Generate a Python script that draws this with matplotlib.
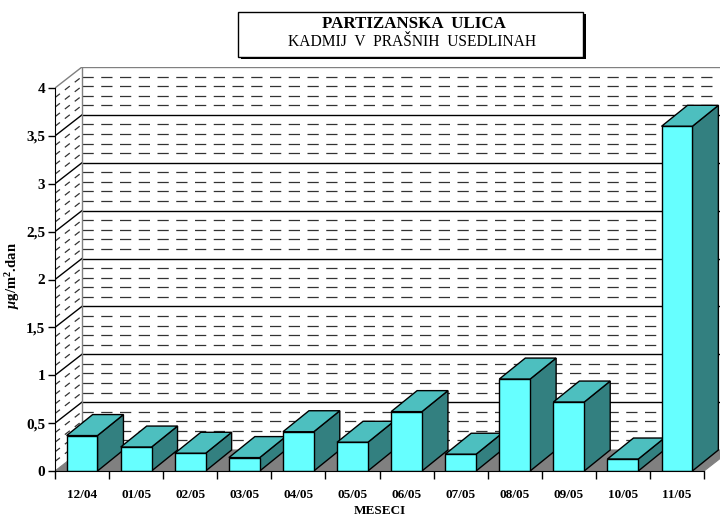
import numpy as np
import matplotlib
matplotlib.use("Agg")
import matplotlib.pyplot as plt
from matplotlib.patches import Polygon, Rectangle

plt.rcParams['font.family'] = ['Liberation Serif', 'DejaVu Serif']
plt.rcParams['mathtext.fontset'] = 'custom'
plt.rcParams['mathtext.rm'] = 'Liberation Serif:bold'
plt.rcParams['mathtext.bf'] = 'Liberation Serif:bold'
plt.rcParams['mathtext.it'] = 'Liberation Serif:italic:bold'

# monthly cadmium in dust deposits
months = ['12/04', '01/05', '02/05', '03/05', '04/05', '05/05',
          '06/05', '07/05', '08/05', '09/05', '10/05', '11/05']
cadmium = [0.37, 0.25, 0.185, 0.14, 0.41, 0.30,
           0.62, 0.175, 0.96, 0.72, 0.125, 3.60]
y_ticks = [0, 0.5, 1, 1.5, 2, 2.5, 3, 3.5, 4]
y_tick_labels = ['0', '0,5', '1', '1,5', '2', '2,5', '3', '3,5', '4']

W, H = 720, 517
fig = plt.figure(figsize=(W / 100, H / 100), dpi=100)

# plot area in pixels: front axis at x=55, floor at y=471, wall top at y=67
left, bottom, top = 55, 471, 67
px_per_cat = (704 - 55) / 12
px_per_unit = (471 - 88) / 4
ax = fig.add_axes([left / W, (H - bottom) / H, (W - left) / W, (bottom - top) / H])
ax.set_xlim(0, (W - left) / px_per_cat)
ax.set_ylim(0, (bottom - top) / px_per_unit)

# depth of the wall and of the bars, in data units
wdx, wdy = 27 / px_per_cat, 21 / px_per_unit
bdx, bdy = 26 / px_per_cat, 21 / px_per_unit
n = len(months)

# floor
ax.add_patch(Polygon([(0, 0), (n, 0), (n + wdx, wdy), (wdx, wdy)],
                     closed=True, fc='#808080', ec='#808080', lw=0.8, zorder=1))

# grid on back wall and side wall
for k in range(1, 41):
    y = k / 10
    major = k % 5 == 0
    ls = '-' if major else (0, (9, 6))
    col = 'black' if major else '#333333'
    lw = 1.0 if major else 0.9
    if k == 40:
        ls, col = '-', '#808080'
    ax.plot([wdx, n + 2], [y + wdy, y + wdy], ls=ls, color=col, lw=lw, zorder=0.5)
    ax.plot([0, wdx], [y, y + wdy], ls=ls if major or k == 40 else (0, (5, 5)),
            color=col, lw=lw, zorder=0.5)
ax.plot([wdx, wdx], [wdy, 4 + wdy], color='#808080', lw=1, zorder=0.6)

# bars with top and side faces
w = 0.57
for i, v in enumerate(cadmium):
    l = i + 0.5 - w / 2
    r = l + w
    side = Polygon([(r, 0), (r + bdx, bdy), (r + bdx, v + bdy), (r, v)],
                   closed=True, fc='#338080', ec='black', lw=1, zorder=2)
    topf = Polygon([(l, v), (r, v), (r + bdx, v + bdy), (l + bdx, v + bdy)],
                   closed=True, fc='#4DBFBF', ec='black', lw=1, zorder=2)
    front = Rectangle((l, 0), w, v, fc='#66FFFF', ec='black', lw=1, zorder=3)
    for p in (side, topf, front):
        ax.add_patch(p)

# axes
for s in ('top', 'right'):
    ax.spines[s].set_visible(False)
ax.spines['left'].set_bounds(0, 4)
ax.spines['bottom'].set_bounds(0, n)
ax.spines['left'].set_zorder(4)
ax.spines['bottom'].set_zorder(4)
ax.patch.set_alpha(0)

ax.set_yticks(y_ticks)
ax.set_yticklabels(y_tick_labels, fontsize=11, fontweight='bold')
ax.tick_params(axis='y', length=5, width=1, pad=2)

ax.set_xticks(np.arange(n + 1))
ax.set_xticklabels([])
ax.tick_params(axis='x', which='major', length=6, width=1)
ax.set_xticks(np.arange(n) + 0.5, minor=True)
ax.set_xticklabels(months, minor=True, fontsize=9.5, fontweight='bold')
ax.tick_params(axis='x', which='minor', length=0, pad=13)

fig.text(13 / W, 1 - 276 / H, r'$\mu$g/m$^{2}$.dan', rotation=90, ha='center',
         va='center', fontsize=10.5, fontweight='bold')
fig.text(380 / W, 1 - 511 / H, 'MESECI', ha='center', va='center',
         fontsize=9.5, fontweight='bold')

# title box with drop shadow
bx0, by0, bx1, by1 = 238, 12, 583, 57
fig.patches.append(Rectangle(((bx0 + 3) / W, 1 - (by1 + 2) / H), (bx1 - bx0) / W,
                             (by1 - by0) / H, transform=fig.transFigure,
                             fc='black', ec='black', lw=0, zorder=1))
fig.patches.append(Rectangle((bx0 / W, 1 - by1 / H), (bx1 - bx0) / W, (by1 - by0) / H,
                             transform=fig.transFigure, fc='white', ec='black',
                             lw=1, zorder=2))
fig.text(414 / W, 1 - 24 / H, 'PARTIZANSKA  ULICA', ha='center', va='center',
         fontsize=12.2, fontweight='bold', zorder=3)
fig.text(412 / W, 1 - 42 / H, 'KADMIJ  V  PRAŠNIH  USEDLINAH', ha='center',
         va='center', fontsize=11.2, zorder=3)

fig.savefig('out.png', dpi=100)
